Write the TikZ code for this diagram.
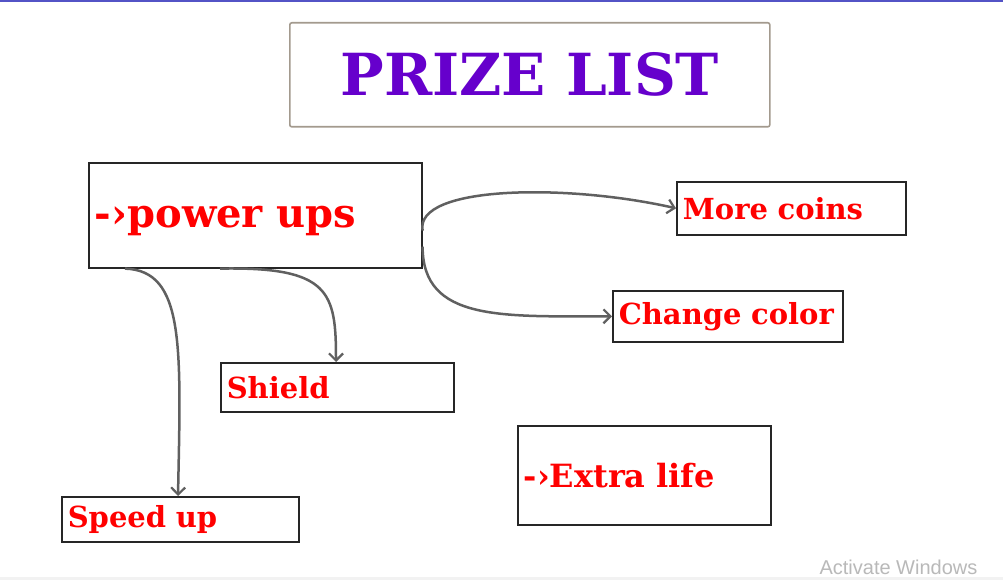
\documentclass[tikz,border=0pt]{standalone}
\usepackage{fontspec}
\setmainfont{DejaVu Serif}
\newfontfamily\wmfont{Liberation Sans}
\usetikzlibrary{arrows.meta}
\definecolor{ttl}{HTML}{6600CC}
\definecolor{lbl}{HTML}{FF0000}
\definecolor{conn}{HTML}{606060}
\definecolor{frame}{HTML}{A39A8E}
\begin{document}
\begin{tikzpicture}[x=1pt,y=-1pt,
  box/.style={draw=black!85, line width=1.6pt, inner xsep=6pt, inner ysep=0pt, align=left,
     font=\bfseries\fontsize{29}{31}\selectfont, text=lbl, anchor=north west},
  link/.style={draw=conn, line width=2.5pt, -{Straight Barb[length=7pt,width=14pt,line width=2.2pt]}}]
\useasboundingbox (0,0) rectangle (1003,580);
\fill[white] (0,0) rectangle (1003,580);
\fill[blue!50!gray!90] (0,0) rectangle (1003,2);
\fill[gray!10] (0,577) rectangle (1003,580);
% title
\node[draw=frame, line width=1.6pt, rounded corners=2pt, minimum width=480pt, minimum height=104pt,
  anchor=north west, text=ttl, font=\bfseries\fontsize{58}{60}\selectfont] (title) at (289,22) {PRIZE LIST};
% boxes
\node[box, minimum width=333pt, minimum height=105pt, text width=321pt, font=\bfseries\fontsize{40}{42}\selectfont] (pu) at (88,162) {\raisebox{-12pt}[0pt][0pt]{-›power ups}};
\node[box, minimum width=229pt, minimum height=53pt, text width=217pt] (mc) at (676,181) {More coins};
\node[box, minimum width=230pt, minimum height=51pt, text width=218pt] (cc) at (612,290) {Change color};
\node[box, minimum width=233pt, minimum height=49pt, text width=221pt] (sh) at (220,362) {Shield};
\node[box, minimum width=237pt, minimum height=45pt, text width=225pt] (su) at (61,496) {Speed up};
\node[box, minimum width=253pt, minimum height=99pt, text width=241pt, font=\bfseries\fontsize{32}{34}\selectfont] (el) at (517,425) {-›Extra life};
\node[anchor=west, text=gray!55, font=\wmfont\fontsize{20}{22}\selectfont] (aw) at (816,567) {Activate Windows};
% connectors
\draw[link] ([yshift=38pt]pu.south east) .. controls +(-8,-45) and +(-110,-25) .. (mc.west);
\draw[link] ([yshift=22pt]pu.south east) .. controls +(0,75) and +(-110,0) .. (cc.west);
\draw[link] ([xshift=132pt]pu.south west) .. controls +(110,-2) and +(0,-70) .. ([xshift=116pt]sh.north west);
\draw[link] ([xshift=37pt]pu.south west) .. controls +(60,2) and +(3,-150) .. ([xshift=117pt]su.north west);
\end{tikzpicture}
\end{document}
